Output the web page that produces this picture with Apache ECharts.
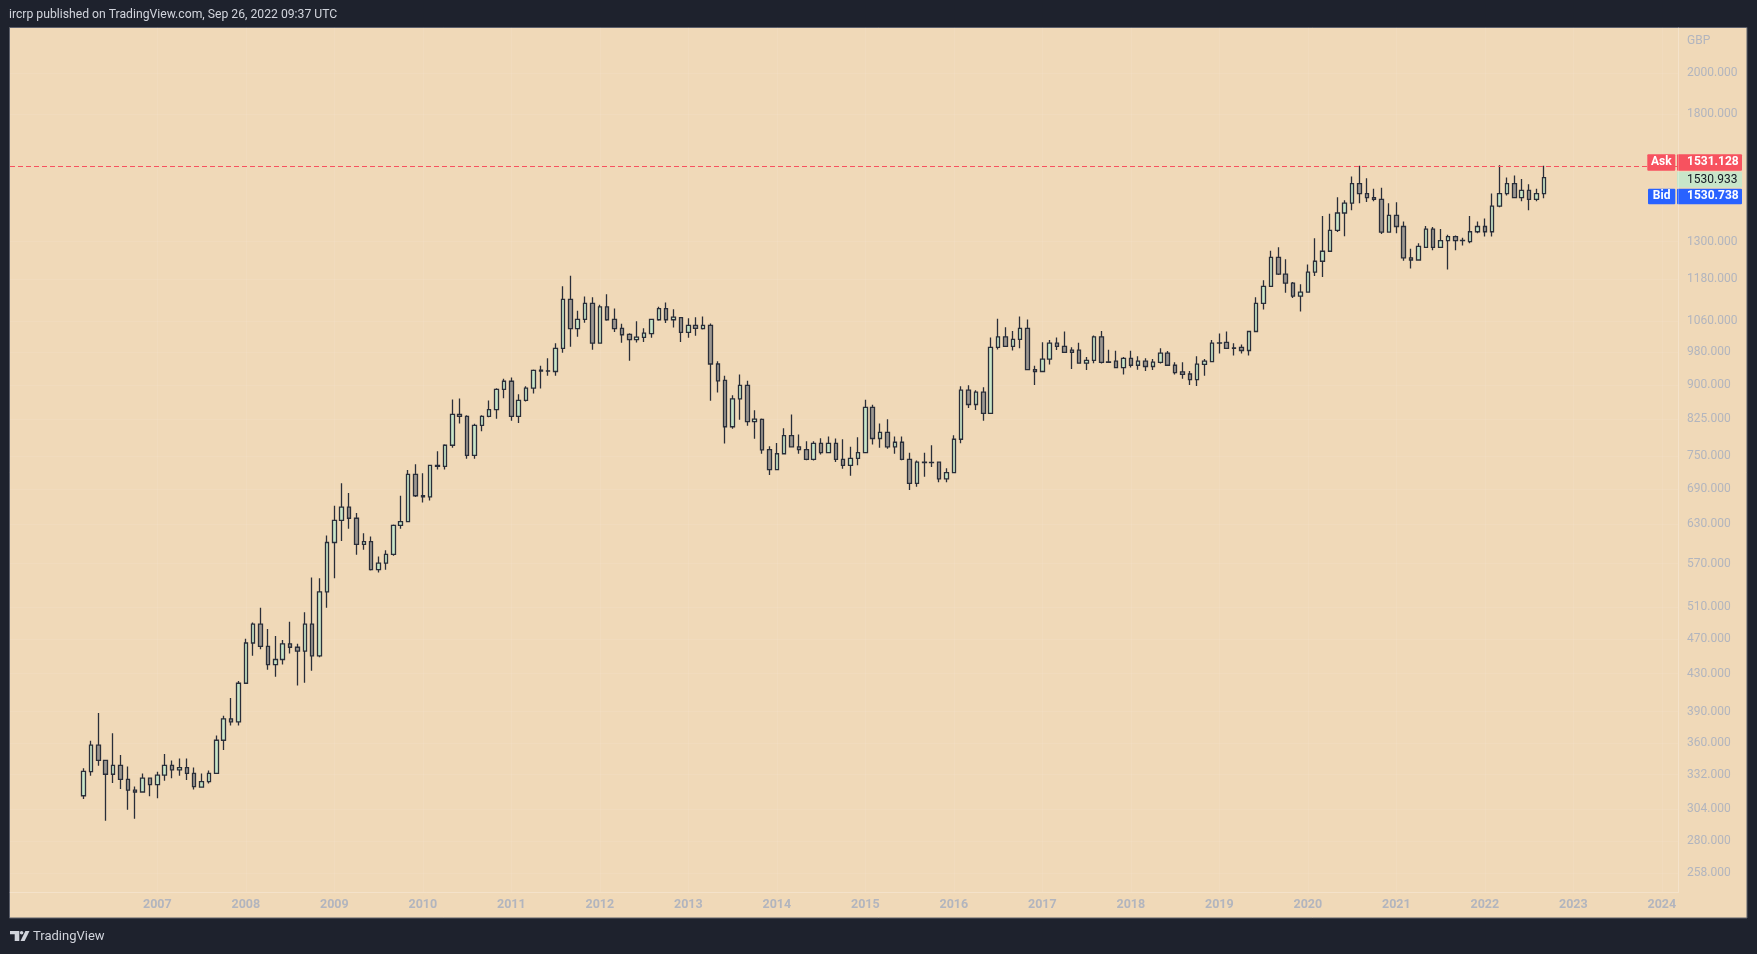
<!DOCTYPE html>
<html>
<head>
<meta charset="utf-8">
<script src="https://cdn.jsdelivr.net/npm/echarts@6/dist/echarts.min.js"></script>
<style>
html,body{margin:0;padding:0;background:#1e222d;overflow:hidden;}
#chart{width:1757px;height:954px;}
</style>
</head>
<body>
<div id="chart"></div>
<script>
// ---- Monthly candles, XAUGBP (gold priced in GBP), Mar 2006 - Sep 2022 ----
const months = [
  '2006-03','2006-04','2006-05','2006-06','2006-07','2006-08','2006-09','2006-10','2006-11','2006-12',
  '2007-01','2007-02','2007-03','2007-04','2007-05','2007-06','2007-07','2007-08','2007-09','2007-10','2007-11','2007-12',
  '2008-01','2008-02','2008-03','2008-04','2008-05','2008-06','2008-07','2008-08','2008-09','2008-10','2008-11','2008-12',
  '2009-01','2009-02','2009-03','2009-04','2009-05','2009-06','2009-07','2009-08','2009-09','2009-10','2009-11','2009-12',
  '2010-01','2010-02','2010-03','2010-04','2010-05','2010-06','2010-07','2010-08','2010-09','2010-10','2010-11','2010-12',
  '2011-01','2011-02','2011-03','2011-04','2011-05','2011-06','2011-07','2011-08','2011-09','2011-10','2011-11','2011-12',
  '2012-01','2012-02','2012-03','2012-04','2012-05','2012-06','2012-07','2012-08','2012-09','2012-10','2012-11','2012-12',
  '2013-01','2013-02','2013-03','2013-04','2013-05','2013-06','2013-07','2013-08','2013-09','2013-10','2013-11','2013-12',
  '2014-01','2014-02','2014-03','2014-04','2014-05','2014-06','2014-07','2014-08','2014-09','2014-10','2014-11','2014-12',
  '2015-01','2015-02','2015-03','2015-04','2015-05','2015-06','2015-07','2015-08','2015-09','2015-10','2015-11','2015-12',
  '2016-01','2016-02','2016-03','2016-04','2016-05','2016-06','2016-07','2016-08','2016-09','2016-10','2016-11','2016-12',
  '2017-01','2017-02','2017-03','2017-04','2017-05','2017-06','2017-07','2017-08','2017-09','2017-10','2017-11','2017-12',
  '2018-01','2018-02','2018-03','2018-04','2018-05','2018-06','2018-07','2018-08','2018-09','2018-10','2018-11','2018-12',
  '2019-01','2019-02','2019-03','2019-04','2019-05','2019-06','2019-07','2019-08','2019-09','2019-10','2019-11','2019-12',
  '2020-01','2020-02','2020-03','2020-04','2020-05','2020-06','2020-07','2020-08','2020-09','2020-10','2020-11','2020-12',
  '2021-01','2021-02','2021-03','2021-04','2021-05','2021-06','2021-07','2021-08','2021-09','2021-10','2021-11','2021-12',
  '2022-01','2022-02','2022-03','2022-04','2022-05','2022-06','2022-07','2022-08','2022-09'
];

const open = [
  314.5,334.5,358,344.3,332.3,340,328,319,317.5,329,
  323.5,331.5,340,336,338,333,321.5,326,333,362.5,383,380,
  419.5,465,488,461,440,445.8,464,460,455.5,488,450,530,
  601.5,636.5,658.6,640,598.5,603,561,570.5,583.5,628.4,634.5,716,
  678,676,733,731,771.6,835,831,752,812,831,845.5,890.5,
  909,831,865.5,893,935,933.5,932,989,1121,1040,1065,1109.5,
  1002,1099.5,1065,1041,1025,1011,1017,1027,1064,1095,1064,1070,
  1030,1049,1040,1049,950,911,809,869,899.5,819.5,824.5,763,
  725,755,791,768.5,763,744,775.5,757,775.5,744,733,746,
  757,850,785,797.5,768.5,777.5,744,700,739,738,739,708,
  719.5,783.5,888.5,856.5,884,837,991.5,1018.5,994,1012,1041,936.5,
  932,962,1002,994,984.5,984.5,952,959,1018.5,955,957,941.5,
  964,947,957,944,954,977,947,931,926,913,949,956,
  1002,1004,990,991.5,983.5,1032.5,1109.5,1159,1248,1196,1168.5,1130.5,
  1142,1202,1236,1268,1338,1398.5,1434,1508,1470,1455,1448,1332,
  1390,1351,1247,1240,1281,1342,1281,1303,1316.5,1303,1300,1333,
  1351,1333,1423,1470,1508,1455,1482,1448,1470
];

const high = [
  337.4,362,388.7,344.3,369,349,339,322,333,329,
  334.5,350,344.3,346,346,338,333,335.5,367,386,404,422,
  470,490,509,482,473.5,468.7,491,464,503,550,549,612.5,
  661,700,683,648.5,616,611,580.5,589.5,630,678,724,735,
  718,733,760,773.5,867.5,869.6,833,815,833,865,893,915,
  917.5,879,897.5,937,946,964,1002,1159,1191,1088.5,1129,1127,
  1106,1136,1095,1053,1028,1060,1041,1065,1100,1112,1093,1070,
  1068,1071,1073,1054,957,922,877,925,910,844,826.5,769.5,
  776,806,835,793,779.5,779.5,785.5,789,785,783.5,768.5,787.5,
  867,856,816,824.5,789,789,757,742,757,771.5,739,727.5,
  791.5,897.5,900,888.5,895,1017,1067,1044,1034,1073,1065,946,
  1004.5,1010,1017,1032.5,991.5,1003,967,1022,1034,985.5,983,967,
  983,969,964,962,989,982,954.5,954.5,933,969,962,1010,
  1027,1032.5,1002,998.5,1032.5,1127,1177,1270,1281,1242,1172,1165,
  1226,1311,1388,1396,1456.5,1445,1535.5,1578,1529,1488,1491.5,1434,
  1437.5,1368.5,1276,1294,1353,1349,1342,1323,1320,1313,1388,1368.5,
  1379,1470,1580,1532,1539.5,1526,1505,1488,1578
];

const low = [
  311.8,331,339.6,295,325,320,303.5,296.5,317.5,314,
  312.5,326.8,329,331,327.4,319.5,321,324.5,333,353.5,376.5,376.5,
  419.5,450,457.5,434.3,426.5,440,452.7,417,420,433,448.5,509,
  549,604,623,583,590.5,560,557,561,581.5,623,634.5,676,
  666.5,669.8,725.3,725.3,766.5,816,745.5,745.5,800,829,826,870.5,
  821.5,817,863,881,892,922,922,978,993,1019,1056,985.5,
  1002,1061,1031,1003,958,1004,1005,1016,1061,1055,1043,1005,
  1016,1021,1038,864.5,883,775,805,823.5,811,784.5,755,715,
  725,755,768.5,755,742.5,742,753.5,757,739,726.5,713.5,733,
  757,773,766.5,764.5,755,742.5,688,694,712,730,702,702,
  719.5,775.5,849,844.5,821.5,837,986,994,983.5,989,936.5,900.5,
  932,949,984.5,979,938,952,935.7,952,951,954,941.5,925,
  941.5,936,933,935.5,951,947,925,915,900.5,898,922,956,
  976,989,971,976,971,1032.5,1092,1159,1193,1140,1125,1087,
  1142,1190,1187,1268,1332,1318,1408,1434,1438.5,1441,1325,1332,
  1328,1237.5,1213,1240,1281,1271,1281,1210,1271,1287,1294,1328,
  1316.5,1316.5,1419,1463,1452,1441,1408,1441,1452
];

const close = [
  334.8,358,344.3,332.3,340,328,319,317.5,329,323.5,
  331.5,340,336,338,333,322,326,333,362.5,383,380,419.5,
  465,488,461,440,445.8,464,460,455.5,488,450,530,601.5,
  636.5,658.6,640,598.5,603,561,570.5,583.5,628.4,634.5,716,678,
  676,733,731,771.6,835,831,752,812,831,845.5,890.5,909,
  831,865.5,893,934.5,933,933,989,1121,1040,1065,1109.5,1002,
  1099.5,1064,1040,1024,1011,1017.5,1028,1065,1095,1064,1071,1030,
  1049,1041,1049,950,910,809,869,899.5,819.5,825,762.5,725,
  755,791,768.5,763,744,775.5,757,775.5,744,733,746,757,
  850,785,797.5,768.5,777.5,744,700,739,738,738.5,708,719.5,
  783.5,888.5,856.5,884,837,991.5,1018.5,994,1012,1041,936.5,932,
  962,1002,994,979,979,952,959,1018.5,954,954,941.5,964,
  947,957,944,954.5,977,947,929.5,925,913,949.5,957,1002,
  1003,989,989,983.5,1032.5,1109.5,1159,1248,1196,1168.5,1130.5,1142,
  1202,1236,1268,1338,1398.5,1434,1508,1470,1455,1448,1332,1390,
  1351,1247,1240,1284,1342,1281,1303,1316.5,1303,1303.5,1333,1351,
  1333,1423,1470,1508,1455,1482,1448,1470,1530.933
];

const priceTicks = [2000,1800,1300,1180,1060,980,900,825,750,690,630,570,510,470,430,390,360,332,304,280,258];
const yearTicks = [2007,2008,2009,2010,2011,2012,2013,2014,2015,2016,2017,2018,2019,2020,2021,2022,2023,2024];
const resistanceLevel = 1578;
const askPrice = 1531.128;
const lastPrice = 1530.933;
const bidPrice = 1530.738;
const headerText = 'ircrp published on TradingView.com, Sep 26, 2022 09:37 UTC';
const currencyText = 'GBP';

// ---- build candle tuples [time(years), open, close, low, high] ----
function monthToYear(s) {
  const p = s.split('-');
  return Number(p[0]) + (Number(p[1]) - 1) / 12;
}
const candles = months.map((m, i) => [monthToYear(m), open[i], close[i], low[i], high[i]]);

const FONT = 'Roboto, "Noto Sans", "DejaVu Sans", sans-serif';
const AXIS_TEXT = '#b2b5be';
const GRID_LINE = 'rgba(255,255,255,0.07)';

const chart = echarts.init(document.getElementById('chart'), null, {renderer: 'canvas', width: 1757, height: 954});

const option = {
  backgroundColor: '#1e222d',
  animation: false,
  grid: {left: 10, right: 79, top: 27.7, bottom: 61.7, containLabel: false},
  xAxis: {
    type: 'value',
    min: 2005.3356,
    max: 2024.183,
    axisLine: {show: true, onZero: false, lineStyle: {color: 'rgba(255,255,255,0.25)', width: 1}},
    axisTick: {show: false, customValues: yearTicks},
    axisLabel: {
      customValues: yearTicks,
      formatter: v => String(Math.round(v)),
      color: AXIS_TEXT, fontSize: 12.5, fontWeight: 'bold', fontFamily: FONT, margin: 6
    },
    splitLine: {show: true, lineStyle: {color: GRID_LINE, width: 1}}
  },
  yAxis: {
    type: 'log',
    logBase: 10,
    min: 245.6,
    max: 2247.7,
    position: 'right',
    axisLine: {show: true, lineStyle: {color: 'rgba(255,255,255,0.25)', width: 1}},
    axisTick: {show: false, customValues: priceTicks},
    axisLabel: {
      customValues: priceTicks,
      formatter: v => Number(v).toFixed(3),
      color: AXIS_TEXT, fontSize: 12, fontFamily: FONT, margin: 9, align: 'left'
    },
    splitLine: {show: true, lineStyle: {color: GRID_LINE, width: 1}}
  },
  series: [{
    type: 'candlestick',
    data: candles,
    encode: {x: 0, y: [1, 2, 3, 4]},
    barWidth: 4,
    itemStyle: {
      color: '#c8e6c9',
      color0: '#9c9791',
      borderColor: '#2a2e39',
      borderColor0: '#2a2e39',
      borderColorDoji: '#2a2e39',
      borderWidth: 1.3
    },
    markLine: {
      silent: true,
      symbol: ['none', 'none'],
      label: {show: false},
      lineStyle: {color: '#f7525f', type: [5, 3], width: 1},
      data: [{yAxis: resistanceLevel}]
    }
  }]
};
chart.setOption(option);

// ---- price tags on the right, anchored through the y scale ----
const yLast = chart.convertToPixel({yAxisIndex: 0}, lastPrice) + 2;
const yAsk = yLast - 17.2;
const yBid = yLast + 16.8;

function tag(x, yc, w, h, fill, text, color, align, bold) {
  return {
    type: 'group',
    z: 100,
    children: [
      {type: 'rect', shape: {x: x, y: yc - h / 2, width: w, height: h, r: 1}, style: {fill: fill}},
      {type: 'text', style: {
        text: text,
        x: align === 'center' ? x + w / 2 : x + 10,
        y: yc,
        fill: color,
        font: (bold ? 'bold ' : '') + '12px ' + FONT,
        align: align === 'center' ? 'center' : 'left',
        verticalAlign: 'middle'
      }}
    ]
  };
}

chart.setOption({
  graphic: [
    // panel background and frame
    {type: 'rect', z: -10, silent: true,
     shape: {x: 9.5, y: 27.5, width: 1737.5, height: 890.5},
     style: {fill: '#f0d9b8', stroke: '#5d606b', lineWidth: 1}},
    // header text
    {type: 'text', z: 100, style: {text: headerText, x: 9, y: 14.5, fill: '#d1d4dc',
      font: '12.2px ' + FONT, verticalAlign: 'middle'}},
    // currency
    {type: 'text', z: 100, style: {text: currencyText, x: 1687, y: 40.5, fill: AXIS_TEXT,
      font: '12px ' + FONT, verticalAlign: 'middle'}},
    // price tags
    tag(1647.3, yAsk, 28, 16.4, '#f7525f', 'Ask', '#ffffff', 'center', true),
    tag(1677, yAsk, 65, 16.4, '#f7525f', askPrice.toFixed(3), '#ffffff', 'left', true),
    tag(1677, yLast, 65, 15.7, '#c8e6c9', lastPrice.toFixed(3), '#131722', 'left', false),
    tag(1648, yBid, 27.3, 15.6, '#2962ff', 'Bid', '#ffffff', 'center', true),
    tag(1677, yBid, 65, 15.6, '#2962ff', bidPrice.toFixed(3), '#ffffff', 'left', true),
    // TradingView logo
    {type: 'polygon', z: 100, shape: {points: [[10,931],[19.3,931],[19.3,941],[14.7,941],[14.7,934.2],[10,934.2]]},
     style: {fill: '#d1d4dc'}},
    {type: 'circle', z: 100, shape: {cx: 21.6, cy: 932.8, r: 1.8}, style: {fill: '#d1d4dc'}},
    {type: 'polygon', z: 100, shape: {points: [[25.4,931],[29.5,931],[24.6,941],[20.5,941]]},
     style: {fill: '#d1d4dc'}},
    {type: 'text', z: 100, style: {text: 'TradingView', x: 33, y: 936.5, fill: '#d1d4dc',
      font: '13px ' + FONT, verticalAlign: 'middle'}}
  ]
});
</script>
</body>
</html>
